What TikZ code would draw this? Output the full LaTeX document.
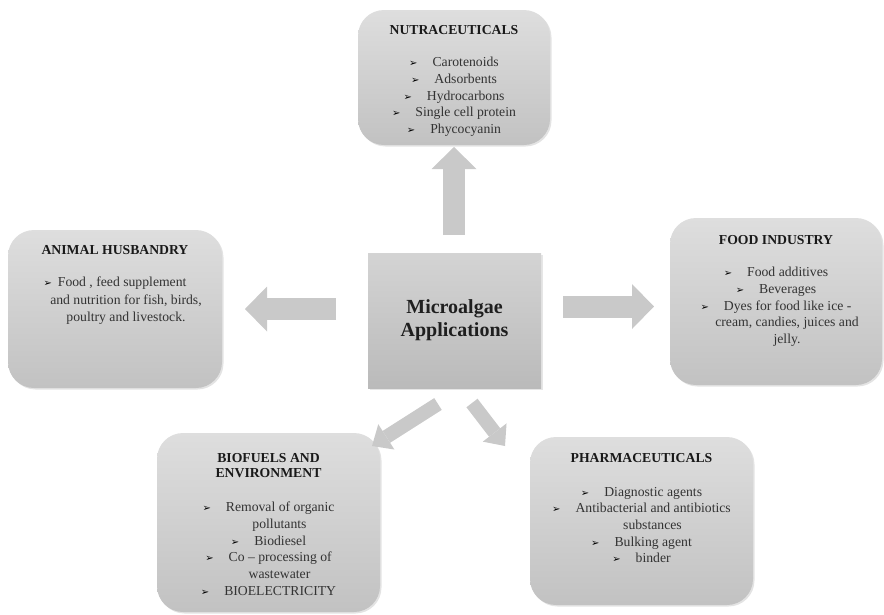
\documentclass[tikz,border=0pt]{standalone}
\usepackage{fontspec}
\setmainfont{Liberation Serif}
\newfontfamily\bulletfont{DejaVu Sans}
\usepackage{tikz}
\usetikzlibrary{arrows.meta,positioning,shadows,calc}

\newcommand{\bul}{{\bulletfont\fontsize{10}{10}\selectfont\color{black}\char"27A2}\hspace{15pt}}
\newcommand{\cont}{\hspace*{22pt}}

\tikzset{
  appbox/.style={rounded corners=26pt, top color=black!13, bottom color=black!24, draw=none,
    drop shadow={opacity=0.22, shadow xshift=1.5pt, shadow yshift=-1.5pt}},
  corebox/.style={top color=black!17, bottom color=black!27, draw=none,
    drop shadow={opacity=0.2, shadow xshift=1.5pt, shadow yshift=-1.5pt},
    font=\bfseries\fontsize{20}{23}\selectfont, text=black!88, align=center},
  boxtitle/.style={font=\bfseries\fontsize{13.7}{15}\selectfont, text=black!90, align=center, inner sep=0pt},
  boxitems/.style={font=\fontsize{13.7}{16.7}\selectfont, text=black!80, align=center, inner sep=0pt},
  blockarrow/.style={line width=22pt, draw=black!21,
    -{Triangle[width=45pt,length=22pt,line width=0pt]}},
  slantarrow/.style={line width=14pt, draw=black!21,
    -{Triangle[width=30pt,length=17pt,line width=0pt]}}
}

\begin{document}
\begin{tikzpicture}[x=1pt,y=-1pt]
		\useasboundingbox (0,0) rectangle (884,614);
		% boxes
		\node [corebox, minimum width=173pt, minimum height=135pt] (core) at (454.5,320.5) {Microalgae\\Applications};
		\node [appbox, minimum width=192pt, minimum height=135pt] (nutra) at (454,77.5) {};
		\node [appbox, minimum width=214pt, minimum height=158pt] (animal) at (115,309) {};
		\node [appbox, minimum width=212pt, minimum height=167pt] (food) at (776,301.5) {};
		\node [appbox, minimum width=223pt, minimum height=179pt] (biofuel) at (268.5,522.5) {};
		\node [appbox, minimum width=223pt, minimum height=168pt] (pharma) at (641.5,521) {};
		% titles and lists
		\node [boxtitle, below=15.5pt of nutra.north] (nutraT) {NUTRACEUTICALS};
		\node [boxitems, below=22pt of nutraT] (nutraL) {\bul Carotenoids\\ \bul Adsorbents\\ \bul Hydrocarbons\\ \bul Single cell protein\\ \bul Phycocyanin};
		\node [boxtitle, below=15.5pt of animal.north] (animalT) {ANIMAL HUSBANDRY};
		\node [boxitems, below=22pt of animalT, font=\fontsize{13.7}{17.5}\selectfont] (animalL) {{\bulletfont\fontsize{10}{10}\selectfont\color{black}\char"27A2}\hspace{6pt}Food , feed supplement\\ \cont and nutrition for fish, birds,\\ \cont poultry and livestock.};
		\node [boxtitle, below=17.5pt of food.north] (foodT) {FOOD INDUSTRY};
		\node [boxitems, below=22pt of foodT] (foodL) {\bul Food additives\\ \bul Beverages\\ \bul Dyes for food like ice -\\ \cont cream, candies, juices and\\ \cont jelly.};
		\node [boxtitle, below=20.5pt of biofuel.north] (biofuelT) {BIOFUELS AND\\ENVIRONMENT};
		\node [boxitems, below=24pt of biofuelT] (biofuelL) {\bul Removal of organic\\ \cont pollutants\\ \bul Biodiesel\\ \bul Co -- processing of\\ \cont wastewater\\ \bul BIOELECTRICITY};
		\node [boxtitle, below=16.5pt of pharma.north] (pharmaT) {PHARMACEUTICALS};
		\node [boxitems, below=24pt of pharmaT] (pharmaL) {\bul Diagnostic agents\\ \bul Antibacterial and antibiotics\\ \cont substances\\ \bul Bulking agent\\ \bul binder};
		% arrow ends
		\coordinate (upS) at (454,235); \coordinate (upE) at (454,147);
		\coordinate (leftS) at (336,309); \coordinate (leftE) at (245,309);
		\coordinate (rightS) at (563,306.5); \coordinate (rightE) at (654,306.5);
		\coordinate (dlS) at (438,404); \coordinate (dlE) at (372,446);
		\coordinate (drS) at (472,403); \coordinate (drE) at (505,446);
		\draw [blockarrow] (upS) -- (upE);
		\draw [blockarrow] (leftS) -- (leftE);
		\draw [blockarrow] (rightS) -- (rightE);
		\draw [slantarrow] (dlS) -- (dlE);
		\draw [slantarrow] (drS) -- (drE);
\end{tikzpicture}
\end{document}
